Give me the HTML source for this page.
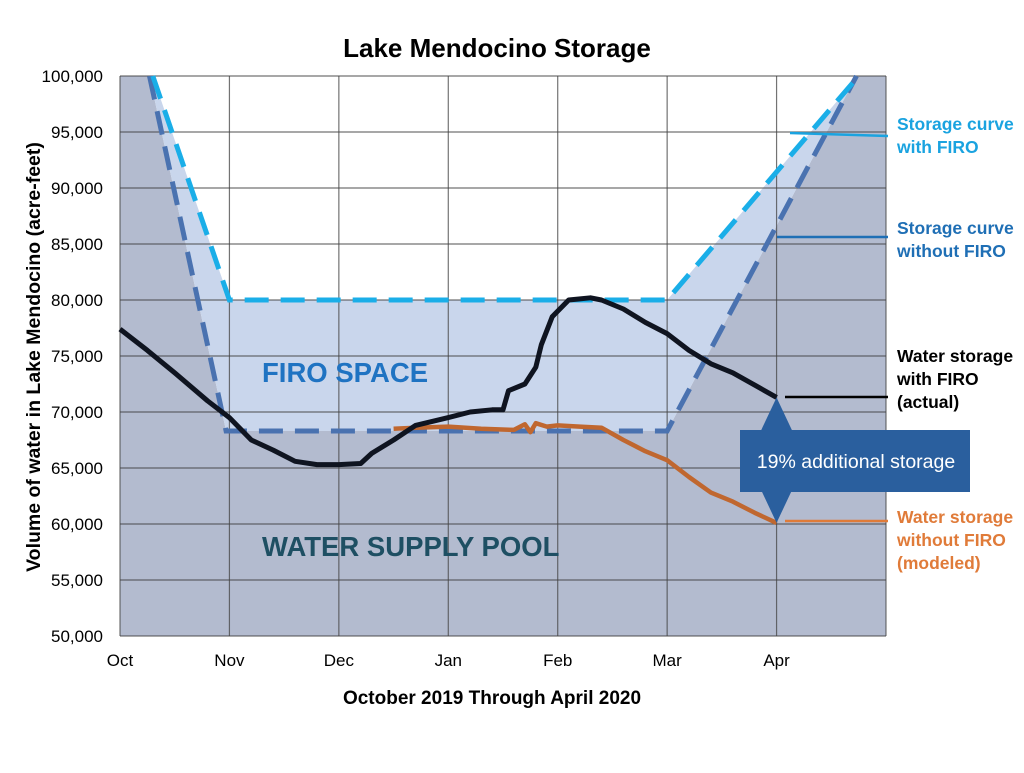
<!DOCTYPE html>
<html><head><meta charset="utf-8"><style>
body{margin:0;background:#fff;width:1024px;height:768px;overflow:hidden}
svg text{font-family:"Liberation Sans",sans-serif}
</style></head><body>
<svg id="chart" width="1024" height="768">
<text x="497" y="57" text-anchor="middle" font-size="26" font-weight="bold">Lake Mendocino Storage</text>
<g id="plot"></g>
<text x="492" y="704" text-anchor="middle" font-size="19" font-weight="bold">October 2019 Through April 2020</text>
<text transform="translate(40,357) rotate(-90)" text-anchor="middle" font-size="19.5" font-weight="bold">Volume of water in Lake Mendocino (acre-feet)</text>
</svg>
<script>
const months=["Oct","Nov","Dec","Jan","Feb","Mar","Apr",""];
const yTicks=[50000,55000,60000,65000,70000,75000,80000,85000,90000,95000,100000];
const firoCurveX=[0.3,1.0,5.0,6.75];
const firoCurveY=[100000,80000,80000,100000];
const baseCurveX=[0.27,0.97,5.0,6.73];
const baseCurveY=[100000,68300,68300,100000];
const actualX=[0,0.25,0.5,0.8,1.0,1.2,1.4,1.6,1.8,2.0,2.2,2.3,2.5,2.7,3.0,3.2,3.4,3.5,3.55,3.7,3.8,3.85,3.95,4.1,4.3,4.4,4.6,4.8,5.0,5.2,5.4,5.6,5.8,6.0];
const actualY=[77400,75500,73500,71000,69500,67500,66600,65600,65300,65300,65400,66300,67500,68800,69500,70000,70200,70200,71900,72500,74000,76000,78500,80000,80200,80000,79200,78000,77000,75500,74300,73500,72400,71300];
const modelX=[2.5,2.7,3.0,3.3,3.6,3.7,3.75,3.8,3.9,4.0,4.2,4.4,4.6,4.8,5.0,5.2,5.4,5.6,5.8,6.0];
const modelY=[68500,68600,68700,68500,68400,68900,68200,69000,68700,68800,68700,68600,67500,66500,65700,64200,62800,62000,61000,60100];
const X0=120,X1=886,Y0=636,Y1=76;
const xs=m=>X0+m*(X1-X0)/7;
const ys=v=>Y0-(v-50000)*(Y0-Y1)/50000;
const NS="http://www.w3.org/2000/svg";
const g=document.getElementById('plot');
function mk(t,a,p){const e=document.createElementNS(NS,t);for(const k in a)e.setAttribute(k,a[k]);(p||g).appendChild(e);return e;}
function pts(X,Y){return X.map((x,i)=>xs(x).toFixed(1)+","+ys(Y[i]).toFixed(1)).join(" ");}
let e=mk('polygon',{points:xs(0)+","+ys(100000)+" "+pts(baseCurveX,baseCurveY)+" "+xs(7)+","+ys(100000)+" "+xs(7)+","+ys(50000)+" "+xs(0)+","+ys(50000),fill:"#b3bbcf"});


e=mk('polygon',{points:pts(firoCurveX,firoCurveY)+" "+pts(baseCurveX.slice().reverse(),baseCurveY.slice().reverse()),fill:"#c9d6ec"});


for(let i=0;i<=7;i++){e=mk('line',{x1:xs(i),x2:xs(i),y1:Y1,y2:Y0,stroke:"#444","stroke-width":1.2,"stroke-opacity":0.75});


if(months[i]){e=mk('text',{x:xs(i),y:666,"text-anchor":"middle","font-size":17});e.textContent=months[i];

}}
yTicks.forEach(v=>{e=mk('line',{x1:X0,x2:X1,y1:ys(v),y2:ys(v),stroke:"#444","stroke-width":1.2,"stroke-opacity":0.75});


e=mk('text',{x:103,y:ys(v)+6,"text-anchor":"end","font-size":17});e.textContent=v.toLocaleString('en-US');

});
e=mk('text',{x:262,y:382,"font-size":27.5,"font-weight":"bold",fill:"#1f73c2"});e.textContent="FIRO SPACE";


e=mk('text',{x:262,y:556,"font-size":27.5,"font-weight":"bold",fill:"#1e4f63"});e.textContent="WATER SUPPLY POOL";


e=mk('polyline',{points:pts(baseCurveX,baseCurveY),fill:"none",stroke:"#4a72b0","stroke-width":5,"stroke-dasharray":"24,12"});


e=mk('polyline',{points:pts(firoCurveX,firoCurveY),fill:"none",stroke:"#1aaee8","stroke-width":5,"stroke-dasharray":"24,12"});


e=mk('polyline',{points:pts(modelX,modelY),fill:"none",stroke:"#c0672f","stroke-width":4.5,"stroke-linejoin":"round"});


e=mk('polyline',{points:pts(actualX,actualY),fill:"none",stroke:"#0f1420","stroke-width":5,"stroke-linejoin":"round"});


const ax=xs(6),ayT=ys(actualY[actualY.length-1]),ayB=ys(modelY[modelY.length-1]);
e=mk('polygon',{points:`${ax},${ayT} ${ax+16},${ayT+34} ${ax-16},${ayT+34}`,fill:"#2a5f9e"});


e=mk('polygon',{points:`${ax},${ayB} ${ax+16},${ayB-34} ${ax-16},${ayB-34}`,fill:"#2a5f9e"});


e=mk('rect',{x:740,y:430,width:230,height:62,fill:"#2a5f9e"});


e=mk('text',{x:856,y:468,"text-anchor":"middle","font-size":19.5,fill:"#fff"});e.textContent="19% additional storage";


const leg=[[[790,133,888,136],"#1aa3e0",["Storage curve","with FIRO"],130,'legend-storage-with-firo'],
[[777,237,888,237],"#1f6fb5",["Storage curve","without FIRO"],234,'legend-storage-without-firo'],
[[785,397,888,397],"#000",["Water storage","with FIRO","(actual)"],362,'legend-water-with-firo'],
[[785,521,888,521],"#e07b39",["Water storage","without FIRO","(modeled)"],523,'legend-water-without-firo']];
leg.forEach(l=>{const c=l[0];
e=mk('polyline',{points:`${c[0]},${c[1]} ${c[2]},${c[3]}`,fill:"none",stroke:l[1],"stroke-width":2.5});


e=mk('text',{x:897,y:l[3],"font-size":17.5,"font-weight":"bold",fill:l[1]});


l[2].forEach((s,i)=>{const t=mk('tspan',{x:897,dy:i?23:0},e);t.textContent=s;});});
</script>
</body></html>
